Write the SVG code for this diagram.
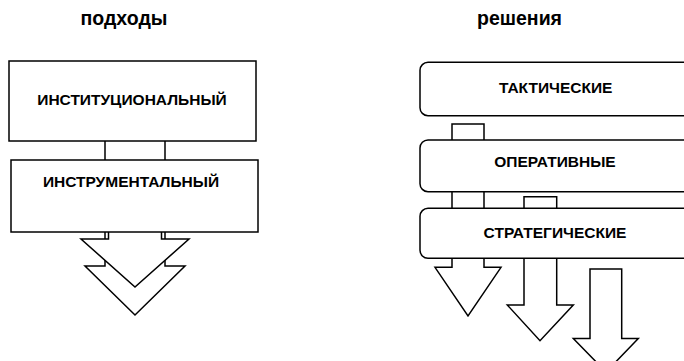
<svg xmlns="http://www.w3.org/2000/svg" width="684" height="361" viewBox="0 0 684 361">
<style>
.shape{fill:#fff;stroke:#000;stroke-width:1.5;stroke-linejoin:miter}
.lbl{font-family:"Liberation Sans",Arial,sans-serif;font-weight:bold;font-size:15.5px;fill:#000;text-anchor:middle}
.ttl{font-family:"Liberation Sans",Arial,sans-serif;font-weight:bold;font-size:19.5px;fill:#000;text-anchor:middle}
</style>
<rect width="684" height="361" fill="#fff"/>
<g id="titles">
<text class="ttl" x="124" y="25">подходы</text>
<text class="ttl" x="519.5" y="25">решения</text>
</g>
<g id="connectors">
<polygon class="shape" points="105,100 165,100 165,266 185,266 135,315 85,266 105,266"/>
<polygon class="shape" points="108.5,180 161.5,180 161.5,239 189,239 135,287 81,239 108.5,239"/>
<polygon class="shape" points="452,124 484,124 484,267.3 501,267.3 468,316 435,267.3 452,267.3"/>
<polygon class="shape" points="524,196.7 556.7,196.7 556.7,305 573.3,305 540,340.7 507.3,305 524,305"/>
</g>
<g id="node-institutional">
<rect class="shape" x="9" y="61" width="247" height="80"/>
<text class="lbl" x="132" y="105">ИНСТИТУЦИОНАЛЬНЫЙ</text>
</g>
<g id="node-instrumental">
<rect class="shape" x="11" y="160" width="247" height="72"/>
<text class="lbl" x="131" y="187">ИНСТРУМЕНТАЛЬНЫЙ</text>
</g>
<g id="node-tactical">
<rect class="shape" x="420" y="62.3" width="272" height="53.4" rx="8" ry="8"/>
<text class="lbl" x="555.7" y="93">ТАКТИЧЕСКИЕ</text>
</g>
<g id="node-operative">
<rect class="shape" x="420" y="140" width="272" height="51.7" rx="8" ry="8"/>
<text class="lbl" x="555" y="166.7">ОПЕРАТИВНЫЕ</text>
</g>
<g id="node-strategic">
<rect class="shape" x="420" y="208.3" width="272" height="50" rx="8" ry="8"/>
<text class="lbl" x="555" y="238">СТРАТЕГИЧЕСКИЕ</text>
</g>
<g id="connectors-front">
<polygon class="shape" points="590,269 621.7,269 621.7,338.5 638.3,338.5 606,372 573.3,338.5 590,338.5"/>
</g>
</svg>
